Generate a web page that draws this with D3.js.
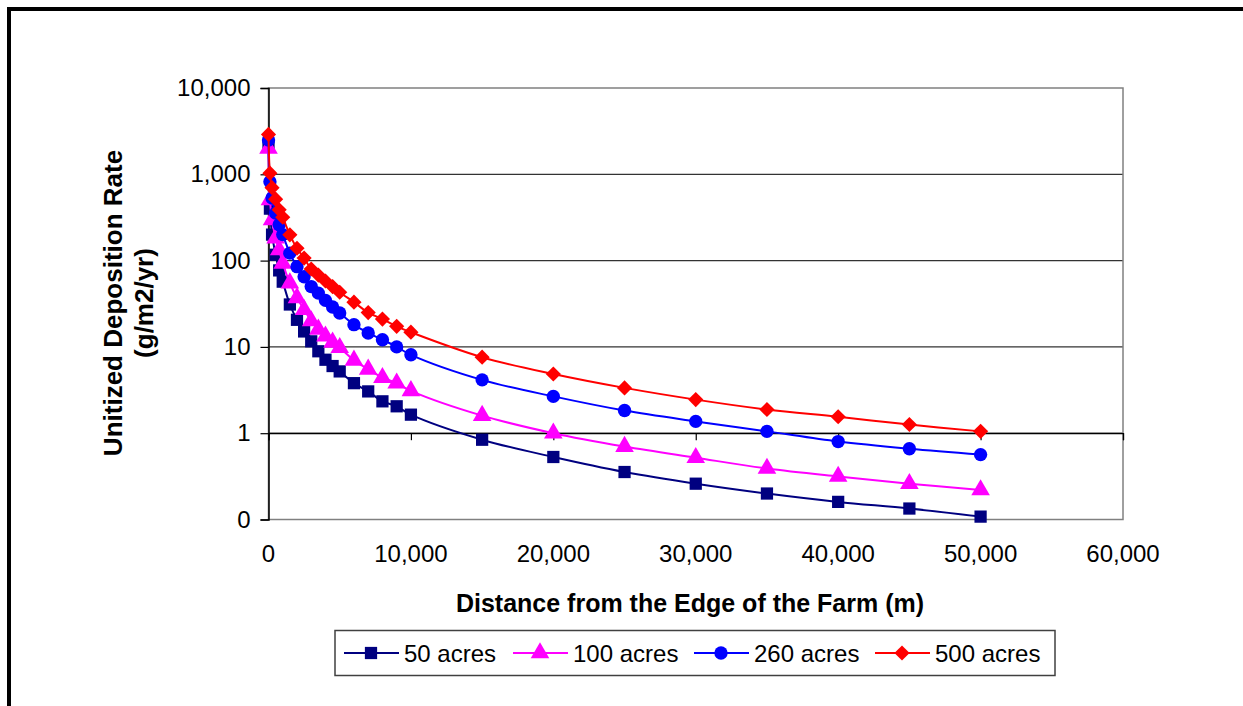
<!DOCTYPE html>
<html>
<head>
<meta charset="utf-8">
<script src="https://cdn.jsdelivr.net/npm/d3@7"></script>
<style>
  body { margin: 0; background: white; }
  svg text { font-family: "Liberation Sans", Arial, sans-serif; }
</style>
</head>
<body>
<div id="chart"></div>
<script>
// distances from the edge of the farm (m)
const distances = [0, 100, 250, 500, 750, 1000, 1500, 2000, 2500, 3000, 3500, 4000, 4500, 5000,
  6000, 7000, 8000, 9000, 10000, 15000, 20000, 25000, 30000, 35000, 40000, 45000, 50000];

// unitized deposition rate (g/m2/yr), one array per farm size
const acres50 = [2100, 400, 200, 117, 77, 57, 31, 20.6, 15.1, 11.6, 8.9, 7.1, 6.0, 5.2,
  3.8, 3.05, 2.34, 2.05, 1.64, 0.84, 0.53, 0.355, 0.26, 0.2, 0.16, 0.134, 0.108];
const acres100 = [2000, 505, 297, 182, 133, 93, 55, 37, 27, 20, 16, 13.3, 11.3, 9.8,
  7.0, 5.5, 4.4, 3.8, 3.1, 1.6, 1.0, 0.70, 0.52, 0.39, 0.315, 0.26, 0.22];
const acres260 = [2500, 820, 530, 355, 260, 200, 122, 85, 65, 50, 42, 34.6, 29, 24.7,
  18.1, 14.5, 12.1, 10, 8.1, 4.15, 2.67, 1.83, 1.37, 1.05, 0.80, 0.66, 0.565];
const acres500 = [2900, 1030, 700, 515, 388, 318, 199, 139, 107, 80, 68, 58, 50, 43,
  33, 25, 21, 17.3, 14.8, 7.6, 4.85, 3.35, 2.45, 1.88, 1.55, 1.26, 1.05];

const seriesNames = ['50 acres', '100 acres', '260 acres', '500 acres'];
const seriesValues = [acres50, acres100, acres260, acres500];

const yTicks = [0.1, 1, 10, 100, 1000, 10000];
const yTickLabels = ['0', '1', '10', '100', '1,000', '10,000'];
const xTicks = [0, 10000, 20000, 30000, 40000, 50000, 60000];
const xTickLabels = ['0', '10,000', '20,000', '30,000', '40,000', '50,000', '60,000'];

// styles per series (the diamond is a square turned 45 degrees)
const colors = ['#000080', '#ff00ff', '#0000ff', '#ff0000'];
const symbols = [d3.symbolSquare, d3.symbolTriangle, d3.symbolCircle, d3.symbolSquare];
const symbolSizes = [150, 150, 140, 115];
const symbolTurns = [0, 0, 0, 45];

// position and dimensions
const W = 1243;
const H = 706;
const plot = { left: 268.5, right: 1123, top: 88, bottom: 519.5 };

const svg = d3.select('#chart')
  .append('svg')
  .attr('width', W)
  .attr('height', H)
  .attr('xmlns', 'http://www.w3.org/2000/svg');

svg.append('rect')
  .attr('width', W)
  .attr('height', H)
  .attr('fill', 'white');

// outer frame (runs off the right and bottom of the picture)
svg.append('rect')
  .attr('x', 9)
  .attr('y', 9)
  .attr('width', W + 20)
  .attr('height', H + 20)
  .attr('fill', 'none')
  .attr('stroke', 'black')
  .attr('stroke-width', 4);

const x = d3.scaleLinear()
  .domain([0, 60000])
  .range([plot.left, plot.right]);

const y = d3.scaleLog()
  .domain([0.1, 10000])
  .range([plot.bottom, plot.top]);

// gridlines
svg.append('g')
  .selectAll('line')
  .data(yTicks.filter((d) => d > 0.1 && d < 10000))
  .enter()
  .append('line')
  .attr('x1', plot.left)
  .attr('x2', plot.right)
  .attr('y1', (d) => y(d))
  .attr('y2', (d) => y(d))
  .attr('stroke', '#333')
  .attr('stroke-width', 1.2);

// plot area border
svg.append('rect')
  .attr('x', plot.left)
  .attr('y', plot.top)
  .attr('width', plot.right - plot.left)
  .attr('height', plot.bottom - plot.top)
  .attr('fill', 'none')
  .attr('stroke', '#808080')
  .attr('stroke-width', 1.5);

// y axis
const yAxis = d3.axisLeft(y)
  .tickValues(yTicks)
  .tickSize(8)
  .tickPadding(10)
  .tickFormat((d, i) => yTickLabels[i]);

const gy = svg.append('g')
  .attr('transform', `translate(${plot.left},0)`)
  .call(yAxis);
gy.select('.domain').attr('stroke', 'black').attr('stroke-width', 1.5);
gy.selectAll('.tick line').attr('stroke', 'black').attr('stroke-width', 1.2);
gy.selectAll('.tick text')
  .attr('fill', 'black')
  .style('font-size', '24px');

// x axis crosses at 1, labels sit at the bottom
const xAxis = d3.axisBottom(x)
  .tickValues(xTicks)
  .tickSize(7)
  .tickFormat('');

const gx = svg.append('g')
  .attr('transform', `translate(0,${y(1)})`)
  .call(xAxis);
gx.select('.domain').attr('stroke', 'black').attr('stroke-width', 1.2);
gx.selectAll('.tick line').attr('stroke', 'black').attr('stroke-width', 1.2);

svg.append('g')
  .selectAll('text')
  .data(xTicks)
  .enter()
  .append('text')
  .attr('x', (d) => x(d))
  .attr('y', 562)
  .attr('text-anchor', 'middle')
  .style('font-size', '24px')
  .text((d, i) => xTickLabels[i]);

// axis titles
svg.append('text')
  .attr('x', 690)
  .attr('y', 612)
  .attr('text-anchor', 'middle')
  .style('font-size', '25px')
  .style('font-weight', 'bold')
  .text('Distance from the Edge of the Farm (m)');

const yTitle = svg.append('text')
  .attr('transform', 'translate(122,303) rotate(-90)')
  .attr('text-anchor', 'middle')
  .style('font-size', '26px')
  .style('font-weight', 'bold');
yTitle.append('tspan').attr('x', 0).attr('y', 0).text('Unitized Deposition Rate');
yTitle.append('tspan').attr('x', 0).attr('y', 31).text('(g/m2/yr)');

// series lines and markers
const line = d3.line()
  .x((d) => x(d[0]))
  .y((d) => y(d[1]))
  .curve(d3.curveCatmullRom.alpha(0.5));

seriesValues.forEach((vals, s) => {
  const pts = distances.map((d, i) => [d, vals[i]]);
  svg.append('path')
    .datum(pts)
    .attr('d', line)
    .attr('fill', 'none')
    .attr('stroke', colors[s])
    .attr('stroke-width', 2);

  svg.append('g')
    .selectAll('path')
    .data(pts)
    .enter()
    .append('path')
    .attr('transform', (d) => `translate(${x(d[0])},${y(d[1])}) rotate(${symbolTurns[s]})`)
    .attr('d', d3.symbol().type(symbols[s]).size(symbolSizes[s]))
    .attr('fill', colors[s]);
});

// legend
const legend = svg.append('g');
legend.append('rect')
  .attr('x', 335)
  .attr('y', 630.5)
  .attr('width', 720)
  .attr('height', 45)
  .attr('fill', 'white')
  .attr('stroke', '#404040')
  .attr('stroke-width', 1.5);

const legendX = [344, 513, 694, 875];
seriesNames.forEach((name, s) => {
  const lx = legendX[s];
  legend.append('line')
    .attr('x1', lx)
    .attr('x2', lx + 55)
    .attr('y1', 653)
    .attr('y2', 653)
    .attr('stroke', colors[s])
    .attr('stroke-width', 2);
  legend.append('path')
    .attr('transform', `translate(${lx + 27},653) rotate(${symbolTurns[s]})`)
    .attr('d', d3.symbol().type(symbols[s]).size(symbolSizes[s]))
    .attr('fill', colors[s]);
  legend.append('text')
    .attr('x', lx + 60)
    .attr('y', 661.5)
    .style('font-size', '24px')
    .text(name);
});
</script>
</body>
</html>
